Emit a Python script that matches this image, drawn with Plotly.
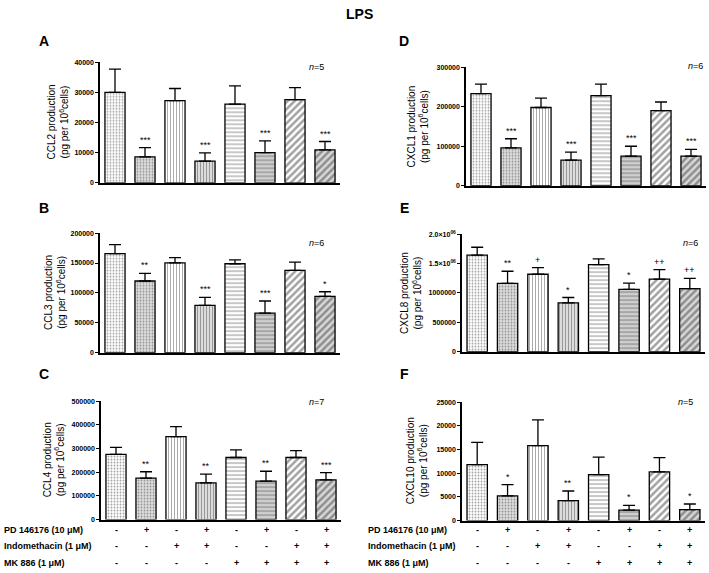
import plotly.graph_objects as go

W, H = 709, 573

conditions = ["Ctrl", "PD", "Indo", "PD+Indo", "MK", "PD+MK", "Indo+MK", "PD+Indo+MK"]
pd_row = ["-", "+", "-", "+", "-", "+", "-", "+"]
indo_row = ["-", "-", "+", "+", "-", "-", "+", "+"]
mk_row = ["-", "-", "-", "-", "+", "+", "+", "+"]
row_labels = ["PD 146176 (10 μM)", "Indomethacin (1 μM)", "MK 886 (1 μM)"]

# Panel A: CCL2
ccl2_mean = [30000, 8600, 27300, 7200, 26100, 10000, 27600, 10900]
ccl2_sem = [7700, 3100, 4000, 2700, 6100, 3900, 4000, 2800]
ccl2_sig = ["", "***", "", "***", "", "***", "", "***"]
# Panel B: CCL3
ccl3_mean = [165800, 120000, 150400, 79300, 148800, 66100, 137700, 94200]
ccl3_sem = [14900, 12800, 8800, 13300, 6600, 20400, 13800, 7800]
ccl3_sig = ["", "**", "", "***", "", "***", "", "*"]
# Panel C: CCL4
ccl4_mean = [275000, 175000, 350000, 155000, 262000, 162000, 262000, 168000]
ccl4_sem = [30000, 27000, 42000, 37000, 32000, 42000, 29000, 30000]
ccl4_sig = ["", "**", "", "**", "", "**", "", "***"]
# Panel D: CXCL1
cxcl1_mean = [233000, 96000, 198000, 65000, 228000, 75000, 190000, 75000]
cxcl1_sem = [24000, 23000, 24000, 20000, 29000, 25000, 22000, 17000]
cxcl1_sig = ["", "***", "", "***", "", "***", "", "***"]
# Panel E: CXCL8
cxcl8_mean = [1642000, 1162000, 1318000, 832000, 1480000, 1061000, 1235000, 1073000]
cxcl8_sem = [135000, 207000, 112000, 90000, 101000, 107000, 162000, 173000]
cxcl8_sig = ["", "**", "+", "*", "", "*", "++", "++"]
# Panel F: CXCL10
cxcl10_mean = [11800, 5200, 15800, 4200, 9700, 2200, 10300, 2300]
cxcl10_sem = [4700, 2400, 5450, 2050, 3700, 1000, 3000, 1200]
cxcl10_sig = ["", "*", "", "**", "", "*", "", "*"]

panels = [
    ("A", ccl2_mean, ccl2_sem, ccl2_sig, "5", "CCL2", 40000,
     [0, 10000, 20000, 30000, 40000], ["0", "10000", "20000", "30000", "40000"]),
    ("B", ccl3_mean, ccl3_sem, ccl3_sig, "6", "CCL3", 200000,
     [0, 50000, 100000, 150000, 200000], ["0", "50000", "100000", "150000", "200000"]),
    ("C", ccl4_mean, ccl4_sem, ccl4_sig, "7", "CCL4", 500000,
     [0, 100000, 200000, 300000, 400000, 500000],
     ["0", "100000", "200000", "300000", "400000", "500000"]),
    ("D", cxcl1_mean, cxcl1_sem, cxcl1_sig, "6", "CXCL1", 300000,
     [0, 100000, 200000, 300000], ["0", "100000", "200000", "300000"]),
    ("E", cxcl8_mean, cxcl8_sem, cxcl8_sig, "6", "CXCL8", 2000000,
     [0, 500000, 1000000, 1500000, 2000000],
     ["0", "500000", "1000000", "1.5×10<sup>06</sup>", "2.0×10<sup>06</sup>"]),
    ("F", cxcl10_mean, cxcl10_sem, cxcl10_sig, "5", "CXCL10", 25000,
     [0, 5000, 10000, 15000, 20000, 25000],
     ["0", "5000", "10000", "15000", "20000", "25000"]),
]

# pixel layout: x-left, x-right, y-zero, y-top, title-center-x, letter-x, letter-y, n-x, n-y
geom = {
    "A": (100, 340, 181, 59, 58, 44, 37, 316, 64),
    "B": (100, 340, 353, 232, 55, 44, 207, 316, 242),
    "C": (101, 341, 522, 402, 54, 44, 375, 316, 403),
    "D": (466, 706, 184, 64, 418, 404, 37, 695, 63),
    "E": (462, 705, 352, 233, 411, 404, 207, 690, 242),
    "F": (462, 705, 523, 403, 417, 404, 375, 685, 403),
}

pat_shape = [".", ".", "|", "|", "-", "-", "/", "/"]
pat_fg = ["#cccccc", "#a8a8a8", "#8c8c8c", "#8a8a8a", "#9a9a9a", "#7a7a7a", "#000000", "#1a1a1a"]
pat_bg = ["#ffffff", "#dedede", "#ffffff", "#dcdcdc", "#ffffff", "#d0d0d0", "#ffffff", "#d8d8d8"]
pat_size = [3, 3, 3, 3, 4, 4, 5, 5]
pat_sol = [0.3, 0.3, 0.3, 0.3, 0.3, 0.3, 0.5, 0.5]

FONT = "Liberation Sans"

fig = go.Figure()
annotations = []
layout_axes = {}

def fx(px):
    return px / W

def fy(py):
    return 1 - py / H

for i, (letter, mean, sem, sig, n, lab, top, tv, tt) in enumerate(panels):
    k = i + 1
    xa = "x" if k == 1 else f"x{k}"
    ya = "y" if k == 1 else f"y{k}"
    xl, xr, yz, yt, tcx, lx, ly, nx, ny = geom[letter]
    fig.add_trace(go.Bar(
        x=conditions, y=mean, xaxis=xa, yaxis=ya, width=0.67,
        marker=dict(
            color=pat_bg,
            line=dict(color="black", width=1.3),
            pattern=dict(shape=pat_shape, fgcolor=pat_fg, bgcolor=pat_bg,
                         size=pat_size, solidity=pat_sol, fillmode="overlay"),
        ),
        error_y=dict(type="data", symmetric=False, array=sem, arrayminus=[0] * len(sem),
                     color="black", thickness=1.3, width=6),
        showlegend=False, hoverinfo="skip",
    ))
    xkey = "xaxis" if k == 1 else f"xaxis{k}"
    ykey = "yaxis" if k == 1 else f"yaxis{k}"
    layout_axes[xkey] = dict(
        domain=[fx(xl), fx(xr)], anchor=ya, range=[-0.5, 7.5],
        showticklabels=False, ticks="", showline=True, linecolor="black",
        linewidth=1.5, showgrid=False, zeroline=False, type="category",
    )
    layout_axes[ykey] = dict(
        domain=[fy(yz), fy(yt)], anchor=xa, range=[0, top],
        tickvals=tv, ticktext=tt, ticks="outside", ticklen=3, tickwidth=1.2,
        tickcolor="black", showline=True, linecolor="black", linewidth=1.5,
        showgrid=False, zeroline=False,
        tickfont=dict(family=FONT, size=7, color="black", weight="bold"),
    )
    for c, s, m, e in zip(conditions, sig, mean, sem):
        if s:
            annotations.append(dict(
                x=c, y=m + e, xref=xa, yref=ya, text=s, showarrow=False,
                yanchor="bottom", yshift=1,
                font=dict(family=FONT, size=9, color="black"),
            ))
    annotations.append(dict(
        x=fx(tcx), y=fy((yz + yt) / 2), xref="paper", yref="paper",
        text=f"{lab} production<br>(pg per 10<sup>6</sup>cells)", textangle=-90,
        showarrow=False, xanchor="center", yanchor="middle",
        font=dict(family=FONT, size=10, color="black"),
    ))
    annotations.append(dict(
        x=fx(lx), y=fy(ly), xref="paper", yref="paper", text=f"<b>{letter}</b>",
        showarrow=False, xanchor="center", yanchor="middle",
        font=dict(family=FONT, size=14, color="black"),
    ))
    annotations.append(dict(
        x=fx(nx), y=fy(ny), xref="paper", yref="paper", text=f"<i>n</i>={n}",
        showarrow=False, xanchor="center", yanchor="middle",
        font=dict(family=FONT, size=9, color="black"),
    ))

row_ys = [532, 549, 566]
for xa in ["x3", "x6"]:
    for rows, ry in zip([pd_row, indo_row, mk_row], row_ys):
        for c, s in zip(conditions, rows):
            annotations.append(dict(
                x=c, y=fy(ry), xref=xa, yref="paper", text=f"<b>{s}</b>",
                showarrow=False, xanchor="center", yanchor="middle",
                font=dict(family=FONT, size=9, color="black"),
            ))
for lx0 in [2, 366]:
    for lab, ry in zip(row_labels, row_ys):
        annotations.append(dict(
            x=fx(lx0), y=fy(ry), xref="paper", yref="paper", text=f"<b>{lab}</b>",
            showarrow=False, xanchor="left", yanchor="middle",
            font=dict(family=FONT, size=9, color="black"),
        ))

annotations.append(dict(
    x=fx(359), y=fy(10), xref="paper", yref="paper", text="<b>LPS</b>",
    showarrow=False, xanchor="center", yanchor="middle",
    font=dict(family=FONT, size=14, color="black"),
))

fig.update_layout(
    width=W, height=H, margin=dict(l=0, r=0, t=0, b=0),
    paper_bgcolor="white", plot_bgcolor="white",
    annotations=annotations, bargap=0.33, **layout_axes,
)

fig.write_html(
    "out.html",
    config={"displayModeBar": False},
    post_script="document.body.style.margin='0';document.body.style.overflow='hidden';",
)
